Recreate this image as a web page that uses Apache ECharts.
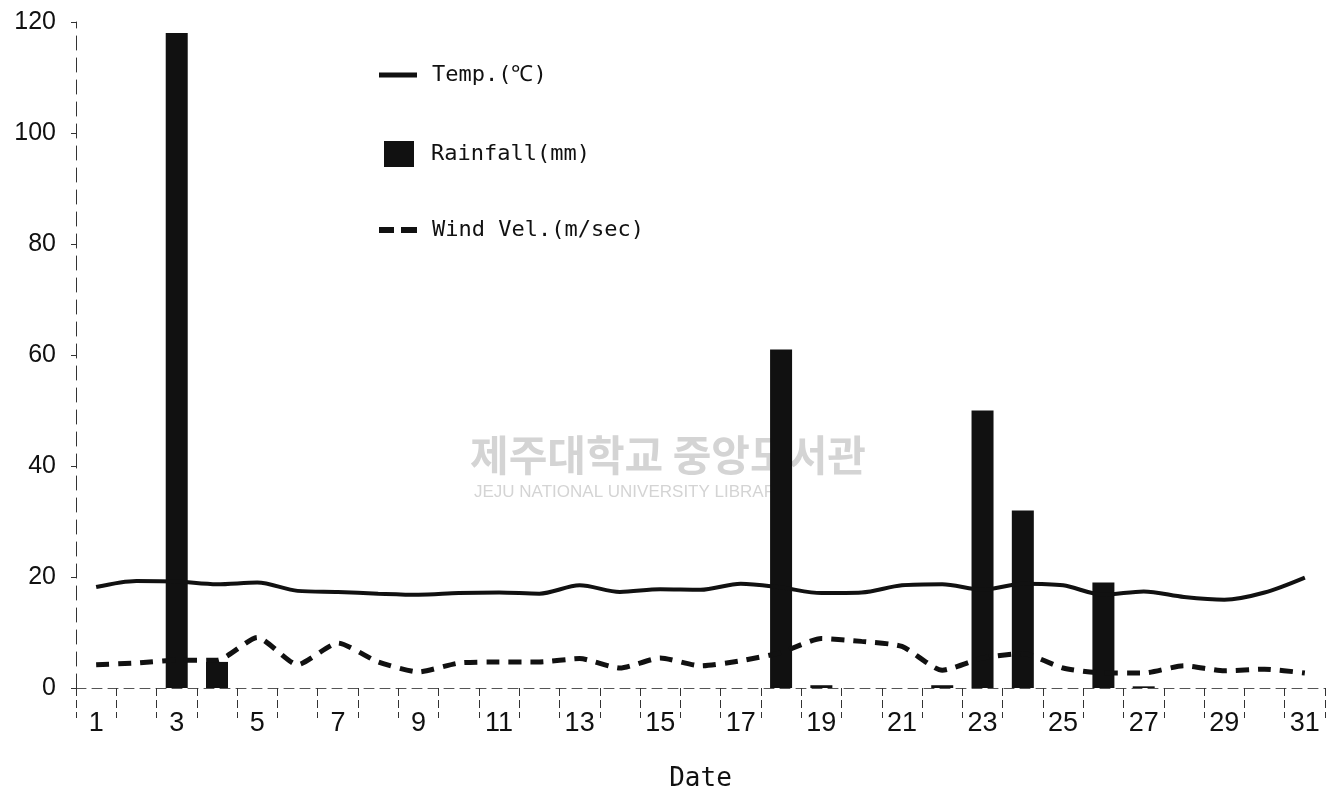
<!DOCTYPE html>
<html>
<head>
<meta charset="utf-8">
<script src="https://cdn.jsdelivr.net/npm/echarts@6/dist/echarts.min.js"></script>
<style>
  html, body { margin: 0; padding: 0; background: #fff; }
  #chart { width: 1329px; height: 793px; }
</style>
</head>
<body>
<div id="chart"></div>
<script>
const days = [];
for (let d = 1; d <= 31; d++) days.push(String(d));

const rainfall = [0, 0, 118, 4.7, 0, 0, 0, 0, 0, 0, 0, 0, 0, 0, 0, 0, 0, 61, 0.5, 0, 0, 0.5, 50, 32, 0, 19, 0.3, 0, 0, 0, 0];
const temp = [18.2, 19.3, 19.2, 18.7, 19, 17.5, 17.3, 17, 16.8, 17.1, 17.2, 17, 18.5, 17.3, 17.8, 17.7, 18.8, 18.1, 17.1, 17.2, 18.5, 18.7, 17.7, 18.8, 18.5, 16.8, 17.4, 16.4, 15.9, 17.2, 19.9];
const wind = [4.2, 4.5, 5, 5, 9.1, 4.2, 8.1, 4.7, 2.9, 4.5, 4.7, 4.7, 5.3, 3.6, 5.4, 4, 4.9, 6.4, 8.9, 8.4, 7.5, 3.2, 5.4, 6.2, 3.6, 2.7, 2.7, 4, 3.1, 3.4, 2.7];

const chart = echarts.init(document.getElementById("chart"));

const legendText = { fontFamily: "DejaVu Sans Mono", fontSize: 22, color: "#111", padding: [0, 0, 0, 10] };

const option = {
  backgroundColor: "#fff",
  animation: false,
  grid: { left: 76, right: 4, top: 22, bottom: 105, outerBoundsMode: "none" },
  legend: [
    {
      left: 374, top: 59, itemWidth: 38, itemHeight: 5,
      icon: "rect",
      textStyle: legendText,
      data: ["Temp.(℃)"],
    },
    {
      left: 379, top: 136, itemWidth: 30, itemHeight: 26,
      icon: "rect",
      textStyle: Object.assign({}, legendText, { padding: [0, 0, 0, 12] }),
      data: ["Rainfall(mm)"],
    },
    {
      left: 374, top: 214, itemWidth: 38, itemHeight: 6,
      icon: "path://M0,0 L15,0 L15,6 L0,6 Z M22,0 L38,0 L38,6 L22,6 Z",
      textStyle: legendText,
      data: ["Wind Vel.(m/sec)"],
    },
  ],
  xAxis: {
    type: "category",
    data: days,
    boundaryGap: true,
    name: "Date",
    nameLocation: "middle",
    nameGap: 78,
    nameTextStyle: { fontFamily: "DejaVu Sans Mono", fontSize: 26, color: "#111" },
    axisLine: { lineStyle: { color: "#555", width: 1, type: [10, 6] } },
    axisTick: { show: true, interval: 0, length: 30, lineStyle: { color: "#333", type: [8, 4] } },
    axisLabel: { interval: 1, margin: 22, fontFamily: "Liberation Sans", fontSize: 27, color: "#111" },
  },
  yAxis: {
    type: "value",
    min: 0,
    max: 120,
    interval: 20,
    splitLine: { show: false },
    axisLine: { show: true, lineStyle: { color: "#333", type: [14, 8] } },
    axisTick: { show: true, length: 5, lineStyle: { color: "#333" } },
    axisLabel: { margin: 20, fontFamily: "Liberation Sans", fontSize: 25, color: "#111" },
  },
  series: [
    {
      name: "Rainfall(mm)",
      type: "bar",
      data: rainfall,
      barWidth: 22,
      itemStyle: { color: "#111" },
      z: 2,
    },
    {
      name: "Temp.(℃)",
      type: "line",
      data: temp,
      symbol: "none",
      smooth: 0.3,
      lineStyle: { color: "#111", width: 4 },
      itemStyle: { color: "#111" },
      z: 3,
    },
    {
      name: "Wind Vel.(m/sec)",
      type: "line",
      data: wind,
      symbol: "none",
      smooth: 0.2,
      lineStyle: { color: "#111", width: 5, type: [13, 9] },
      itemStyle: { color: "#111" },
      z: 3,
    },
  ],
  graphic: [
    {
      type: "text",
      left: 470,
      top: 434,
      z: 0,
      style: { text: "제주대학교 중앙도서관", font: "bold 42px 'Noto Sans CJK KR'", fill: "#d4d4d4" },
    },
    {
      type: "text",
      left: 474,
      top: 484,
      z: 0,
      style: { text: "JEJU NATIONAL UNIVERSITY LIBRARY", font: "17px 'Liberation Sans'", fill: "#d4d4d4" },
    },
  ],
};

chart.setOption(option);
</script>
</body>
</html>
